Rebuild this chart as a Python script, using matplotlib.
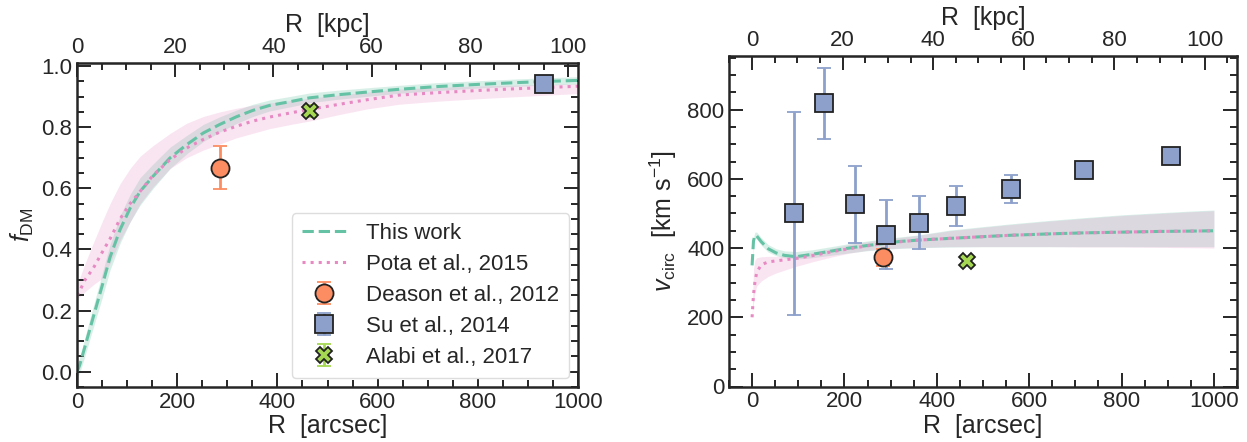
import numpy as np
import matplotlib
matplotlib.use("Agg")
import matplotlib.pyplot as plt
from matplotlib.ticker import MultipleLocator

plt.rcParams['font.family'] = ['Liberation Sans', 'DejaVu Sans']
plt.rcParams['mathtext.fontset'] = 'custom'
plt.rcParams['mathtext.rm'] = 'Liberation Sans'
plt.rcParams['mathtext.it'] = 'Liberation Sans:italic'
plt.rcParams['text.color'] = '#262626'
plt.rcParams['axes.labelcolor'] = '#262626'
plt.rcParams['xtick.color'] = '#262626'
plt.rcParams['ytick.color'] = '#262626'

# colours (Set2)
c_this = '#66c2a5'
c_pota = '#e78ac3'
c_deason = '#fc8d62'
c_su = '#8da0cb'
c_alabi = '#a6d854'

KPC_PER_ARCSEC = 0.102
kpc_ticks = [0, 20, 40, 60, 80, 100]

# ---- left panel: dark matter fraction ----
r_fdm = [0, 5, 15, 33, 50, 66, 86, 106, 126, 152, 186, 219, 252, 285, 318,
         351, 384, 430, 464, 520, 580, 643, 720, 800, 880, 940, 1000]
fdm_this = [0.0, 0.02, 0.077, 0.182, 0.28, 0.375, 0.465, 0.535, 0.59, 0.64,
            0.70, 0.743, 0.781, 0.809, 0.834, 0.855, 0.871, 0.885, 0.896,
            0.906, 0.915, 0.924, 0.933, 0.940, 0.946, 0.950, 0.953]
fdm_this_err = [0.02, 0.025, 0.03, 0.035, 0.04, 0.042, 0.045, 0.045, 0.045,
                0.04, 0.035, 0.03, 0.028, 0.025, 0.022, 0.02, 0.018, 0.017,
                0.016, 0.015, 0.014, 0.013, 0.013, 0.012, 0.012, 0.012, 0.012]
fdm_pota = [0.25, 0.262, 0.298, 0.34, 0.39, 0.435, 0.50, 0.55, 0.59, 0.643,
            0.694, 0.732, 0.76, 0.784, 0.803, 0.82, 0.833, 0.848, 0.858,
            0.874, 0.89, 0.905, 0.913, 0.92, 0.926, 0.93, 0.934]
fdm_pota_hi = [0.29, 0.305, 0.35, 0.423, 0.49, 0.55, 0.615, 0.665, 0.705,
               0.74, 0.78, 0.813, 0.835, 0.85, 0.862, 0.872, 0.879, 0.888,
               0.895, 0.905, 0.915, 0.925, 0.93, 0.935, 0.938, 0.94, 0.942]
fdm_pota_lo = [0.24, 0.245, 0.26, 0.285, 0.305, 0.355, 0.43, 0.49, 0.55,
               0.605, 0.665, 0.70, 0.725, 0.745, 0.765, 0.78, 0.795, 0.81,
               0.82, 0.84, 0.86, 0.875, 0.885, 0.893, 0.90, 0.905, 0.91]

deason_r, deason_f, deason_ferr = [285], [0.667], [0.07]
su_r_f, su_f, su_ferr = [932], [0.942], [0.01]
alabi_r, alabi_f, alabi_ferr = [466], [0.854], [0.02]

# ---- right panel: circular velocity ----
r_v = [0, 3, 6, 10, 20, 35, 52, 70, 95, 130, 175, 210, 247, 285, 319, 360,
       428, 500, 560, 644, 720, 800, 880, 950, 1000]
v_this = [350, 420, 437, 435, 418, 398, 386, 379, 375, 382, 392, 400, 407,
          413, 419, 423, 428, 433, 437, 441, 444, 446, 448, 449, 450]
v_this_lo = [340, 410, 428, 426, 408, 388, 378, 372, 368, 372, 380, 386, 392,
             396, 399, 401, 403, 404, 404, 404, 404, 404, 404, 404, 404]
v_this_hi = [355, 430, 446, 446, 430, 410, 398, 392, 390, 395, 405, 413, 420,
             427, 432, 438, 452, 462, 470, 480, 488, 496, 502, 507, 510]
v_pota = [200, 265, 300, 330, 352, 360, 363, 366, 370, 378, 390, 398, 406,
          413, 418, 423, 428, 433, 437, 441, 444, 446, 448, 449, 450]
v_pota_lo = [200, 240, 270, 290, 305, 318, 328, 336, 347, 360, 375, 385, 393,
             398, 400, 402, 404, 404, 404, 404, 403, 403, 402, 401, 400]
v_pota_hi = [200, 340, 365, 372, 375, 376, 376, 377, 380, 388, 400, 410, 418,
             425, 430, 437, 450, 460, 468, 478, 486, 494, 500, 505, 508]

su_r = [90, 155, 223, 291, 361, 442, 560, 718, 908]
su_v = [500, 819, 526, 437, 473, 521, 571, 627, 666]
su_lo = [208, 714, 415, 340, 396, 465, 530, 612, 656]
su_hi = [792, 921, 637, 538, 550, 579, 610, 640, 676]

deason_rv, deason_v, deason_verr = [284], [373], [25]
alabi_rv, alabi_v, alabi_verr = [466], [363], [10]


def style_axes(ax, ymajor, yminor):
    ax.xaxis.set_major_locator(MultipleLocator(200))
    ax.xaxis.set_minor_locator(MultipleLocator(50))
    ax.yaxis.set_major_locator(MultipleLocator(ymajor))
    ax.yaxis.set_minor_locator(MultipleLocator(yminor))
    ax.tick_params(which='both', direction='in', top=False, right=True,
                   labelsize=16, width=1.4)
    ax.tick_params(which='major', length=10)
    ax.tick_params(which='minor', length=5)
    for s in ax.spines.values():
        s.set_linewidth(1.8)
        s.set_color('#262626')
    ax.set_xlabel('R  [arcsec]', fontsize=18, labelpad=1)
    sec = ax.secondary_xaxis('top', functions=(lambda x: x * KPC_PER_ARCSEC,
                                               lambda x: x / KPC_PER_ARCSEC))
    sec.set_xticks(kpc_ticks)
    sec.xaxis.set_minor_locator(MultipleLocator(5))
    sec.tick_params(which='both', direction='in', labelsize=16, width=1.4)
    sec.tick_params(which='major', length=10)
    sec.tick_params(which='minor', length=5)
    sec.set_xlabel('R  [kpc]', fontsize=18, labelpad=4)


def points(ax, x, y, err, fmt, color, ms, label=None):
    ax.errorbar(x, y, yerr=err, fmt=fmt, color=color, ecolor=color, ms=ms,
                mec='#222222', mew=1.3, elinewidth=2, capsize=5, capthick=2,
                label=label, zorder=5)


fig = plt.figure(figsize=(12.47, 4.42), dpi=100)
ax1 = fig.add_axes([77 / 1247, 1 - 387 / 442, 501 / 1247, 324 / 442])
ax2 = fig.add_axes([729 / 1247, 1 - 386.5 / 442, 508 / 1247, 330.5 / 442])

# left
lo = np.array(fdm_this) - np.array(fdm_this_err)
hi = np.array(fdm_this) + np.array(fdm_this_err)
ax1.fill_between(r_fdm, lo, hi, color=c_this, alpha=0.25, lw=0)
ax1.fill_between(r_fdm, fdm_pota_lo, fdm_pota_hi, color=c_pota, alpha=0.22, lw=0)
ax1.plot(r_fdm, fdm_this, '--', color=c_this, lw=2.2, label='This work')
ax1.plot(r_fdm, fdm_pota, ':', color=c_pota, lw=2.2, label='Pota et al., 2015')
points(ax1, deason_r, deason_f, deason_ferr, 'o', c_deason, 13, 'Deason et al., 2012')
points(ax1, su_r_f, su_f, su_ferr, 's', c_su, 13, 'Su et al., 2014')
points(ax1, alabi_r, alabi_f, alabi_ferr, 'X', c_alabi, 12, 'Alabi et al., 2017')
ax1.set_xlim(0, 1000)
ax1.set_ylim(-0.05, 1.01)
style_axes(ax1, 0.2, 0.05)
ax1.set_ylabel(r'$f_{\rm DM}$', fontsize=18, labelpad=4)
leg = ax1.legend(loc='lower right', fontsize=16, handlelength=2.0,
                 handletextpad=0.9, labelspacing=0.45, numpoints=1,
                 fancybox=True, framealpha=1, borderaxespad=0.4,
                 borderpad=0.45)
leg.get_frame().set_edgecolor('#dddddd')

# right
ax2.fill_between(r_v, v_this_lo, v_this_hi, color=c_this, alpha=0.25, lw=0)
ax2.fill_between(r_v, v_pota_lo, v_pota_hi, color=c_pota, alpha=0.22, lw=0)
ax2.plot(r_v, v_this, '--', color=c_this, lw=2.2)
ax2.plot(r_v, v_pota, ':', color=c_pota, lw=2.2)
su_err = [np.array(su_v) - np.array(su_lo), np.array(su_hi) - np.array(su_v)]
points(ax2, su_r, su_v, su_err, 's', c_su, 13)
points(ax2, deason_rv, deason_v, deason_verr, 'o', c_deason, 13)
points(ax2, alabi_rv, alabi_v, alabi_verr, 'X', c_alabi, 12)
ax2.set_xlim(-50, 1050)
ax2.set_ylim(0, 955)
style_axes(ax2, 200, 50)
ax2.set_ylabel(r'$v_{\rm circ}$  [km s$^{-1}$]', fontsize=18, labelpad=6)

fig.savefig('out.png', dpi=100)
